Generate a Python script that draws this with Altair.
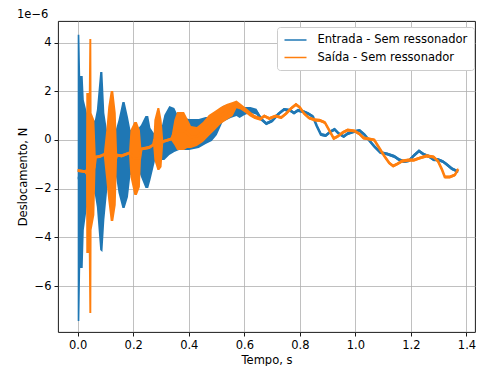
import altair as alt
import pandas as pd

S_IN = "Entrada - Sem ressonador"
S_OUT = "Saída - Sem ressonador"
BLUE = "#1f77b4"
ORANGE = "#ff7f0e"

# Entrada (values in units of 1e-6): time, lower and upper envelope of the trace
t_in = [0.000, 0.006, 0.009, 0.018, 0.022, 0.044, 0.062, 0.069, 0.081, 0.089,
        0.096, 0.108, 0.137, 0.147, 0.161, 0.169, 0.181, 0.190, 0.219, 0.228,
        0.244, 0.254, 0.262, 0.279, 0.304, 0.312, 0.330, 0.348, 0.365, 0.387,
        0.401, 0.436, 0.461, 0.483, 0.501, 0.522, 0.551, 0.572, 0.583, 0.601,
        0.622, 0.644, 0.662, 0.679, 0.700, 0.722, 0.743, 0.765, 0.779, 0.793,
        0.811, 0.829, 0.847, 0.861, 0.876, 0.893, 0.911, 0.925, 0.940, 0.958,
        0.972, 0.990, 1.015, 1.032, 1.050, 1.068, 1.090, 1.115, 1.140, 1.157,
        1.175, 1.193, 1.211, 1.229, 1.247, 1.265, 1.282, 1.297, 1.315, 1.329,
        1.347, 1.370]
lo_in = [-7.44, -7.44, -5.26, -5.26, -3.70, -1.85, -2.26, -2.75, -4.52, -4.60,
         -3.29, -1.85, -1.44, -2.18, -2.79, -2.79, -2.34, -1.44, -1.23, -1.52,
         -1.97, -1.97, -1.64, -0.82, -0.82, -0.82, -0.62, -0.49, -0.41, -0.41,
         -0.41, -0.33, -0.16, -0.04, 0.21, 0.74, 0.90, 0.99, 0.90, 1.03,
         1.12, 1.04, 0.78, 0.61, 0.72, 1.00, 1.19, 1.15, 1.05, 1.15,
         1.11, 1.03, 0.90, 0.51, 0.16, 0.12, 0.29, 0.37, 0.20, 0.08,
         0.20, 0.27, 0.33, 0.16, -0.08, -0.33, -0.58, -0.64, -0.74, -0.87,
         -0.95, -0.91, -0.70, -0.51, -0.66, -0.74, -0.87, -0.87, -0.95, -1.07,
         -1.24, -1.36]
hi_in = [4.32, 4.32, 2.63, 2.63, 1.64, 0.62, 0.82, 1.23, 2.79, 2.79,
         1.11, 0.21, 0.41, 0.82, 1.56, 1.56, 0.95, 0.41, 0.49, 0.62,
         0.99, 0.99, 0.49, 0.21, 0.62, 1.03, 1.40, 1.32, 0.90, 0.90,
         0.86, 0.86, 0.95, 0.95, 1.15, 1.40, 1.48, 1.44, 1.28, 1.36,
         1.36, 1.28, 0.91, 0.74, 0.85, 1.13, 1.32, 1.28, 1.17, 1.28,
         1.24, 1.15, 1.03, 0.64, 0.29, 0.25, 0.41, 0.50, 0.33, 0.21,
         0.33, 0.39, 0.45, 0.29, 0.04, -0.20, -0.45, -0.51, -0.61, -0.74,
         -0.82, -0.78, -0.57, -0.39, -0.53, -0.61, -0.74, -0.74, -0.82, -0.94,
         -1.11, -1.24]

# Saída (values in units of 1e-6)
t_out = [0.000, 0.026, 0.030, 0.031, 0.040, 0.042, 0.049, 0.050, 0.060, 0.065,
         0.080, 0.094, 0.103, 0.110, 0.119, 0.128, 0.137, 0.142, 0.158, 0.176,
         0.185, 0.190, 0.204, 0.213, 0.224, 0.229, 0.258, 0.272, 0.276, 0.287,
         0.294, 0.302, 0.308, 0.337, 0.348, 0.358, 0.383, 0.394, 0.408, 0.429,
         0.451, 0.472, 0.494, 0.515, 0.536, 0.558, 0.572, 0.586, 0.601, 0.619,
         0.637, 0.658, 0.672, 0.690, 0.712, 0.733, 0.751, 0.768, 0.786, 0.800,
         0.815, 0.833, 0.854, 0.872, 0.890, 0.908, 0.922, 0.936, 0.954, 0.972,
         0.997, 1.015, 1.029, 1.050, 1.068, 1.086, 1.104, 1.122, 1.136, 1.151,
         1.168, 1.190, 1.211, 1.232, 1.257, 1.282, 1.297, 1.311, 1.322, 1.340,
         1.358, 1.370]
lo_out = [-1.32, -1.36, -1.36, -4.64, -4.64, -7.11, -7.11, -3.70, -3.08, -0.76,
          -0.74, -0.66, -1.64, -2.47, -3.33, -3.33, -2.67, -0.68, -0.72, -0.64,
          -0.60, -1.52, -2.26, -2.26, -1.93, -0.43, -0.37, -0.26, -0.82, -1.23,
          -1.23, -1.11, -0.12, -0.02, -0.21, -0.41, -0.41, -0.33, -0.33, -0.25,
          -0.08, 0.16, 0.41, 0.66, 0.82, 0.99, 1.30, 1.25, 1.14, 0.98,
          0.86, 0.79, 0.92, 0.82, 0.92, 0.86, 1.03, 1.23, 1.40, 1.27,
          1.03, 0.84, 0.76, 0.74, 0.66, 0.29, 0.00, 0.08, 0.24, 0.35,
          0.31, 0.18, 0.02, -0.02, -0.06, -0.39, -0.72, -1.01, -1.13, -1.05,
          -0.93, -0.89, -0.89, -0.80, -0.72, -0.76, -0.93, -1.26, -1.58, -1.58,
          -1.50, -1.26]
hi_out = [-1.19, -1.24, -1.20, 1.93, 1.93, 4.15, 4.15, 1.11, 0.82, -0.64,
          -0.61, -0.54, 0.41, 1.36, 2.01, 2.01, 1.11, -0.56, -0.59, -0.51,
          -0.47, 0.41, 0.74, 0.74, 0.41, -0.31, -0.24, -0.14, 0.82, 1.32,
          1.32, 0.82, 0.00, 0.10, 0.82, 1.15, 1.15, 0.90, 0.58, 0.53,
          0.74, 1.03, 1.19, 1.36, 1.48, 1.56, 1.62, 1.50, 1.37, 1.19,
          1.03, 0.94, 1.05, 0.95, 1.05, 0.99, 1.15, 1.36, 1.52, 1.40,
          1.15, 0.97, 0.89, 0.87, 0.78, 0.41, 0.13, 0.21, 0.37, 0.47,
          0.43, 0.31, 0.15, 0.10, 0.06, -0.27, -0.59, -0.88, -1.01, -0.92,
          -0.80, -0.76, -0.76, -0.68, -0.59, -0.64, -0.80, -1.13, -1.46, -1.46,
          -1.38, -1.13]

x_ticks = [0.0, 0.2, 0.4, 0.6, 0.8, 1.0, 1.2, 1.4]
y_ticks = [-6, -4, -2, 0, 2, 4]

d_in = pd.DataFrame({"t": t_in, "lo": lo_in, "hi": hi_in, "serie": S_IN})
d_out = pd.DataFrame({"t": t_out, "lo": lo_out, "hi": hi_out, "serie": S_OUT})
for d in (d_in, d_out):
    d["mid"] = (d["lo"] + d["hi"]) / 2

FONT = "DejaVu Sans"
FS = 11.5
xs = alt.Scale(domain=[-0.0709, 1.4307], nice=False, zero=False)
ys = alt.Scale(domain=[-7.89, 4.89], nice=False, zero=False)
cs = alt.Scale(domain=[S_IN, S_OUT], range=[BLUE, ORANGE])

x_axis = alt.Axis(values=x_ticks, format=".1f", title="Tempo, s")
y_axis = alt.Axis(values=y_ticks, format="d", title="Deslocamento, N")


def layers(d, color):
    base = alt.Chart(d)
    area = base.mark_area(color=color, opacity=1).encode(
        x=alt.X("t:Q", scale=xs, axis=x_axis),
        y=alt.Y("lo:Q", scale=ys, axis=y_axis),
        y2="hi:Q",
    )
    line = base.mark_line(strokeWidth=2.6).encode(
        x=alt.X("t:Q", scale=xs),
        y=alt.Y("mid:Q", scale=ys),
        color=alt.Color("serie:N", scale=cs, title=None,
                        legend=alt.Legend(symbolStrokeWidth=1.5)),
    )
    return [area, line]


chart = alt.layer(*layers(d_in, BLUE), *layers(d_out, ORANGE)).properties(
    width=417,
    height=311,
    autosize=alt.AutoSizeParams(type="none"),
    padding={"left": 50, "top": 13, "right": 1, "bottom": 34},
    title=alt.TitleParams("1e−6", anchor="start", fontSize=FS, font=FONT,
                          fontWeight="normal", offset=1, color="black"),
).configure_view(
    stroke="black", strokeWidth=0.9
).configure_axis(
    labelFont=FONT, titleFont=FONT, labelFontSize=FS, titleFontSize=FS,
    titleFontWeight="normal", labelColor="black", titleColor="black",
    domain=False, tickColor="black", tickSize=4, tickWidth=0.9,
    gridColor="#b0b0b0", gridWidth=0.8, labelPadding=3,
).configure_axisX(
    titlePadding=4
).configure_axisY(
    titlePadding=6
).configure_legend(
    orient="none", legendX=219, legendY=6, padding=6.5, rowPadding=5.5,
    fillColor="white", strokeColor="#cccccc", cornerRadius=3,
    labelFont=FONT, labelFontSize=FS, labelColor="black",
    symbolType="M-1,0H3", symbolSize=121, labelOffset=21,
)

chart.save("out.html", embed_options={"renderer": "svg", "actions": False})
